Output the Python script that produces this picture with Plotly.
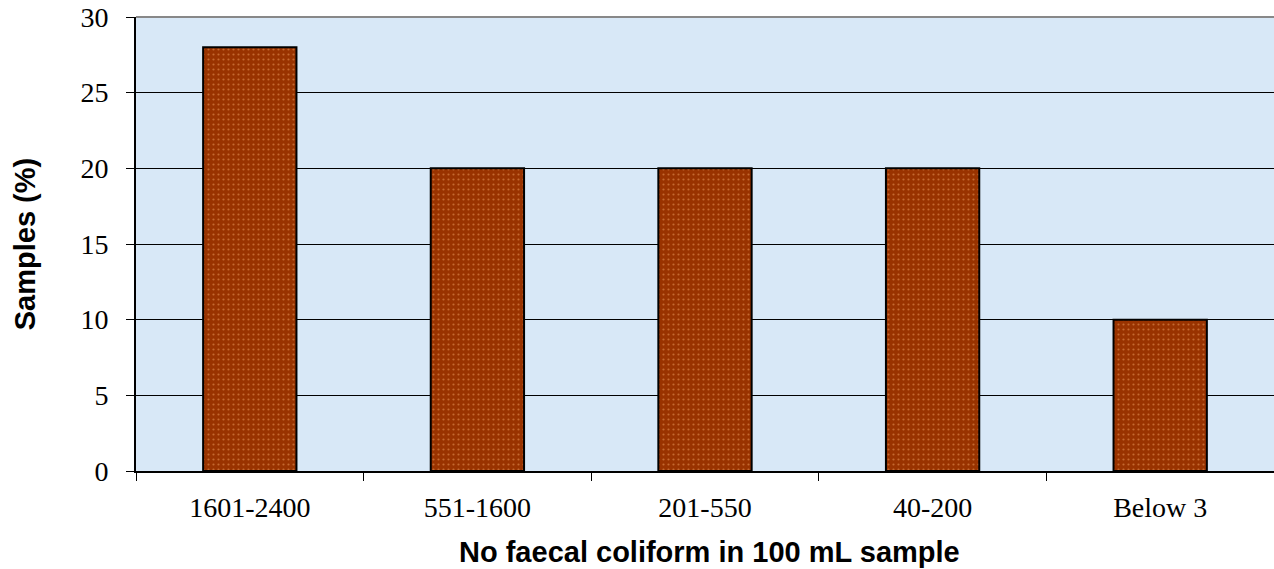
import plotly.graph_objects as go

categories = ["1601-2400", "551-1600", "201-550", "40-200", "Below 3"]
samples_pct = [28, 20, 20, 20, 10]
y_ticks = [0, 5, 10, 15, 20, 25, 30]

fig = go.Figure()
fig.add_trace(go.Bar(
    x=categories,
    y=samples_pct,
    width=0.41,
    marker=dict(
        color="#993300",
        line=dict(color="#000000", width=2),
        pattern=dict(shape=".", fgcolor="#f0a060", bgcolor="#993300", size=5, solidity=0.15),
    ),
))

tick_font = dict(family="Liberation Serif, Times New Roman, serif", size=28, color="black")
title_font = dict(family="Liberation Sans, Arial, sans-serif", size=29, color="black")

fig.update_layout(
    width=1274, height=569,
    margin=dict(l=136, r=0, t=17, b=98),
    paper_bgcolor="white",
    plot_bgcolor="#d8e8f7",
    showlegend=False,
    bargap=0.59,
    xaxis=dict(
        showline=True, linecolor="black", linewidth=2,
        ticks="outside", ticklen=8, tickcolor="black", tickwidth=1,
        tickson="boundaries",
        tickfont=tick_font,
        ticklabelstandoff=10,
        showgrid=False,
    ),
    yaxis=dict(
        range=[0, 30], tickvals=y_ticks,
        showline=True, linecolor="black", linewidth=2,
        ticks="outside", ticklen=8, tickcolor="black",
        showgrid=True, gridcolor="black", gridwidth=1,
        tickfont=tick_font,
        ticklabelstandoff=12,
        title=dict(text="<b>Samples (%)</b>", font=title_font, standoff=36),
        zeroline=False,
    ),
)
fig.add_annotation(
    text="<b>No faecal coliform in 100 mL sample</b>",
    xref="paper", yref="paper",
    x=(709 - 136) / 1138, y=-(552 - 471) / 454,
    xanchor="center", yanchor="middle",
    showarrow=False, font=title_font,
)
fig.add_shape(type="line", xref="paper", yref="paper", x0=0, x1=1, y0=1, y1=1,
              line=dict(color="#888888", width=2))

fig.write_html("out.html", config={"displayModeBar": False},
               post_script="document.body.style.margin='0';document.body.style.overflow='hidden';")
